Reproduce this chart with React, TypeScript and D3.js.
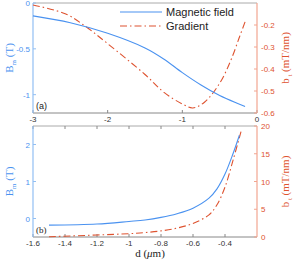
import React, { useEffect, useRef } from "react";
import * as d3 from "d3";

// top panel (a)
const dTopField = [-3, -2.5, -2, -1.5, -1.25, -1, -0.75, -0.5, -0.25, -0.16];
const bTopField = [-0.14, -0.215, -0.33, -0.49, -0.61, -0.76, -0.895, -1.01, -1.1, -1.13];
const dTopGrad = [-3, -2.56, -2.29, -2, -1.5, -1.25, -1, -0.86, -0.7, -0.5, -0.35, -0.23, -0.16];
const bTopGrad = [-0.109, -0.15, -0.208, -0.285, -0.425, -0.505, -0.559, -0.577, -0.55, -0.465, -0.36, -0.25, -0.186];

// bottom panel (b)
const dBotField = [-1.5, -1.2, -1, -0.9, -0.8, -0.7, -0.6, -0.5, -0.45, -0.4, -0.35, -0.31];
const bBotField = [-0.18, -0.15, -0.08, -0.04, 0.03, 0.13, 0.28, 0.55, 0.8, 1.2, 1.75, 2.25];
const dBotGrad = [-1.5, -1.2, -1, -0.9, -0.8, -0.7, -0.6, -0.5, -0.45, -0.4, -0.35, -0.3];
const bBotGrad = [0.05, 0.36, 0.6, 0.8, 1.1, 1.6, 2.45, 4.0, 5.8, 9.0, 13.8, 19.0];

const topXTicks = [-3, -2, -1, 0];
const topLeftTicks = [0, -0.5, -1];
const topRightTicks = [-0.2, -0.3, -0.4, -0.5, -0.6];
const botXTicks = [-1.6, -1.4, -1.2, -1, -0.8, -0.6, -0.4];
const botLeftTicks = [0, 1, 2];
const botRightTicks = [0, 5, 10, 15, 20];
const legendNames = ["Magnetic field", "Gradient"];

const BLUE = "#4a92f0";
const RED = "#de5330";
const BLUE_AX = "#92bff3";
const RED_AX = "#f2a590";
const DASH = "7,3,1.5,3";

export default function App() {
  const ref = useRef<SVGSVGElement>(null);

  useEffect(() => {
    const svg = d3.select(ref.current);
    svg.selectAll("*").remove();
    const left = 33, right = 257;
    const sans = "Liberation Sans, Arial, sans-serif";
    const serif = "Liberation Serif, Times New Roman, serif";

    function panel(o: any) {
      const g = svg.append("g");
      const x = d3.scaleLinear().domain(o.xDom).range([left, right]);
      const yl = d3.scaleLinear().domain(o.lDom).range([o.bottom, o.top]);
      const yr = d3.scaleLinear().domain(o.rDom).range([o.bottom, o.top]);

      // top border
      g.append("line").attr("x1", left).attr("x2", right).attr("y1", o.top).attr("y2", o.top)
        .attr("stroke", "#aaa").attr("stroke-width", 1);
      if (o.topTicks) {
        g.selectAll(".tt").data(o.xTicks).join("line")
          .attr("x1", (d: number) => x(d)).attr("x2", (d: number) => x(d))
          .attr("y1", o.top).attr("y2", o.top + 3).attr("stroke", "#888");
      }
      // bottom axis
      g.append("line").attr("x1", left).attr("x2", right).attr("y1", o.bottom).attr("y2", o.bottom)
        .attr("stroke", "#888").attr("stroke-width", 1);
      g.selectAll(".xt").data(o.xTicks).join("line")
        .attr("x1", (d: number) => x(d)).attr("x2", (d: number) => x(d))
        .attr("y1", o.bottom).attr("y2", o.bottom - 3).attr("stroke", "#888");
      g.selectAll(".xl").data(o.xTicks).join("text")
        .attr("x", (d: number) => x(d)).attr("y", o.bottom + 9)
        .attr("text-anchor", "middle").attr("font-family", sans).attr("font-size", 8)
        .attr("fill", "#333").text((d: number) => String(d));

      // left axis
      g.append("line").attr("x1", left).attr("x2", left).attr("y1", o.top).attr("y2", o.bottom)
        .attr("stroke", BLUE_AX).attr("stroke-width", 1.2);
      g.selectAll(".lt").data(o.lTicks).join("line")
        .attr("x1", left).attr("x2", left + 3).attr("y1", (d: number) => yl(d)).attr("y2", (d: number) => yl(d))
        .attr("stroke", BLUE_AX);
      g.selectAll(".ll").data(o.lTicks).join("text")
        .attr("x", left - 3).attr("y", (d: number) => yl(d) + 3)
        .attr("text-anchor", "end").attr("font-family", sans).attr("font-size", 8)
        .attr("fill", BLUE).text((d: number) => String(d));

      // right axis
      g.append("line").attr("x1", right).attr("x2", right).attr("y1", o.top).attr("y2", o.bottom)
        .attr("stroke", RED_AX).attr("stroke-width", 1.2);
      g.selectAll(".rt").data(o.rTicks).join("line")
        .attr("x1", right).attr("x2", right - 3).attr("y1", (d: number) => yr(d)).attr("y2", (d: number) => yr(d))
        .attr("stroke", RED_AX);
      g.selectAll(".rl").data(o.rTicks).join("text")
        .attr("x", right + 4).attr("y", (d: number) => yr(d) + 3)
        .attr("font-family", sans).attr("font-size", 8)
        .attr("fill", RED).text((d: number) => String(d));

      // curves
      const curve = d3.curveCatmullRom.alpha(0.5);
      const lineL = d3.line<number>().x((d, i) => x(o.dField[i])).y((d) => yl(d)).curve(curve);
      const lineR = d3.line<number>().x((d, i) => x(o.dGrad[i])).y((d) => yr(d)).curve(curve);
      g.append("path").attr("d", lineR(o.bGrad)).attr("fill", "none")
        .attr("stroke", RED).attr("stroke-width", 1.1).attr("stroke-dasharray", DASH);
      g.append("path").attr("d", lineL(o.bField)).attr("fill", "none")
        .attr("stroke", BLUE).attr("stroke-width", 1.1);

      // axis labels
      const mid = (o.top + o.bottom) / 2;
      const tl = g.append("text").attr("transform", `translate(13,${mid}) rotate(-90)`)
        .attr("text-anchor", "middle").attr("font-family", serif).attr("font-size", 11).attr("fill", BLUE);
      tl.append("tspan").text("B");
      tl.append("tspan").attr("font-size", 7).attr("dy", 3).text("m");
      tl.append("tspan").attr("dy", -3).text(" (T)");
      const tr = g.append("text").attr("transform", `translate(289,${mid}) rotate(-90)`)
        .attr("text-anchor", "middle").attr("font-family", serif).attr("font-size", 11).attr("fill", RED);
      tr.append("tspan").text("b");
      tr.append("tspan").attr("font-size", 7).attr("dy", 3).text(" t");
      tr.append("tspan").attr("dy", -3).text("  (mT/nm)");

      g.append("text").attr("x", left + 3).attr("y", o.bottom - 4)
        .attr("font-family", o.tagFont).attr("font-size", 9).attr("fill", "#222").text(o.tag);
      return g;
    }

    panel({
      top: 3, bottom: 113, xDom: [-3, 0], lDom: [-1.2, 0], rDom: [-0.6, -0.1],
      xTicks: topXTicks, lTicks: topLeftTicks, rTicks: topRightTicks,
      dField: dTopField, bField: bTopField, dGrad: dTopGrad, bGrad: bTopGrad,
      tag: "(a)", tagFont: sans, topTicks: false,
    });
    panel({
      top: 126, bottom: 237, xDom: [-1.6, -0.2], lDom: [-0.5, 2.5], rDom: [0, 20],
      xTicks: botXTicks, lTicks: botLeftTicks, rTicks: botRightTicks,
      dField: dBotField, bField: bBotField, dGrad: dBotGrad, bGrad: bBotGrad,
      tag: "(b)", tagFont: serif, topTicks: true,
    });

    // legend
    const leg = svg.append("g");
    legendNames.forEach((name, i) => {
      const y = 12 + i * 14;
      leg.append("line").attr("x1", 120).attr("x2", 162).attr("y1", y).attr("y2", y)
        .attr("stroke", i === 0 ? BLUE : RED).attr("stroke-width", 1.1)
        .attr("stroke-dasharray", i === 0 ? null : DASH);
      leg.append("text").attr("x", 166).attr("y", y + 4).attr("font-family", sans)
        .attr("font-size", 11).attr("fill", "#222").text(name);
    });

    // x label
    const xl = svg.append("text").attr("x", 150).attr("y", 257).attr("text-anchor", "middle")
      .attr("font-family", serif).attr("font-size", 11).attr("fill", "#222");
    xl.append("tspan").text("d  (");
    xl.append("tspan").attr("font-style", "italic").text("μ");
    xl.append("tspan").text("m)");
  }, []);

  return (
    <svg ref={ref} width={298} height={260}
      style={{ position: "absolute", left: 0, top: 0, background: "#fff" }} />
  );
}
